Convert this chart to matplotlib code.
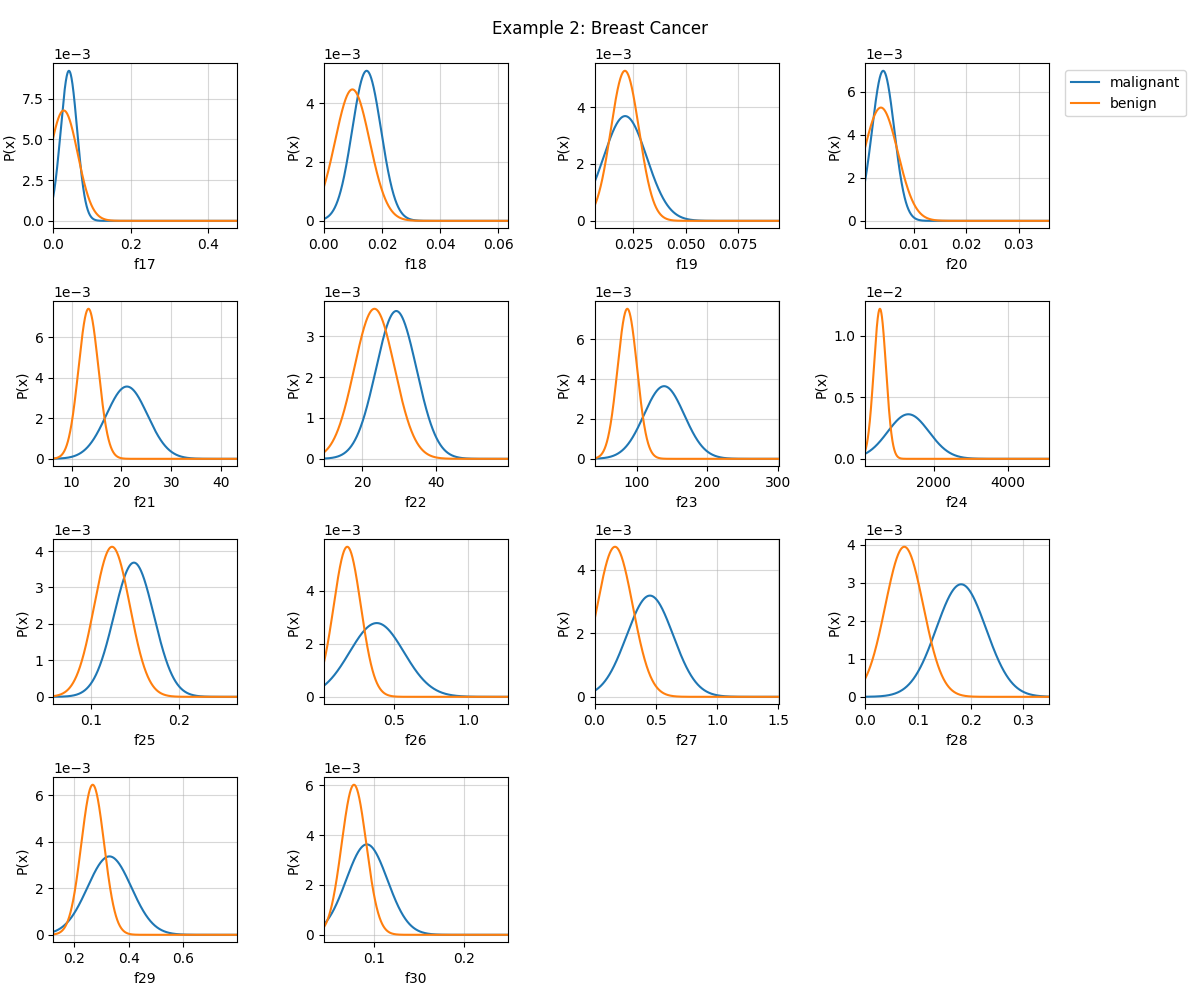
import numpy as np
import matplotlib
matplotlib.use("Agg")
import matplotlib.pyplot as plt

features = ["f17", "f18", "f19", "f20", "f21", "f22", "f23",
            "f24", "f25", "f26", "f27", "f28", "f29", "f30"]

x_lo = [0.0, 0.0, 0.006306, 0.000716, 6.344, 9.616, 40.33,
        148.16, 0.05694, 0.02183, 0.0, 0.0, 0.1252, 0.04403]
x_hi = [0.4752, 0.06335, 0.09474, 0.03581, 43.248, 59.448, 301.44,
        5104.8, 0.26712, 1.2696, 1.5024, 0.3492, 0.79656, 0.249]

malignant_mean = [0.0404, 0.0147, 0.0210, 0.00415, 21.1, 29.2, 139.0,
                  1310.0, 0.149, 0.38, 0.452, 0.182, 0.330, 0.0918]
malignant_std = [0.0212, 0.00497, 0.0104, 0.00212, 4.13, 5.5, 28.6,
                 557.0, 0.0228, 0.184, 0.19, 0.0472, 0.080, 0.0230]

benign_mean = [0.027, 0.0098, 0.0209, 0.00371, 13.4, 23.3, 86.8,
               545.0, 0.124, 0.180, 0.167, 0.0742, 0.269, 0.0775]
benign_std = [0.0362, 0.00596, 0.0068, 0.00323, 1.99, 5.45, 13.85,
              163.6, 0.0204, 0.092, 0.145, 0.0361, 0.0416, 0.0137]

classes = ["malignant", "benign"]
n_points = 1000


def norm_density(x, mu, sd):
    p = np.exp(-0.5 * ((x - mu) / sd) ** 2)
    return p / p.sum()


fig, axes = plt.subplots(4, 4, figsize=(12, 10), dpi=100)
fig.subplots_adjust(left=0.0444, right=0.8744, top=0.9367, bottom=0.0577,
                     wspace=0.47, hspace=0.442)
fig.suptitle("Example 2: Breast Cancer", fontsize=12)

flat = axes.ravel()
for i, name in enumerate(features):
    ax = flat[i]
    x = np.linspace(x_lo[i], x_hi[i], n_points)
    ax.plot(x, norm_density(x, malignant_mean[i], malignant_std[i]),
            color="#1f77b4", label=classes[0])
    ax.plot(x, norm_density(x, benign_mean[i], benign_std[i]),
            color="#ff7f0e", label=classes[1])
    ax.set_xlim(x_lo[i], x_hi[i])
    ax.set_xlabel(name)
    ax.set_ylabel("P(x)")
    ax.grid(alpha=0.5)
    ax.ticklabel_format(axis="y", style="sci", scilimits=(0, 0))

for j in range(len(features), 16):
    flat[j].remove()

flat[3].legend(loc="upper left", bbox_to_anchor=(1.05, 1))

fig.savefig("out.png", dpi=100)
